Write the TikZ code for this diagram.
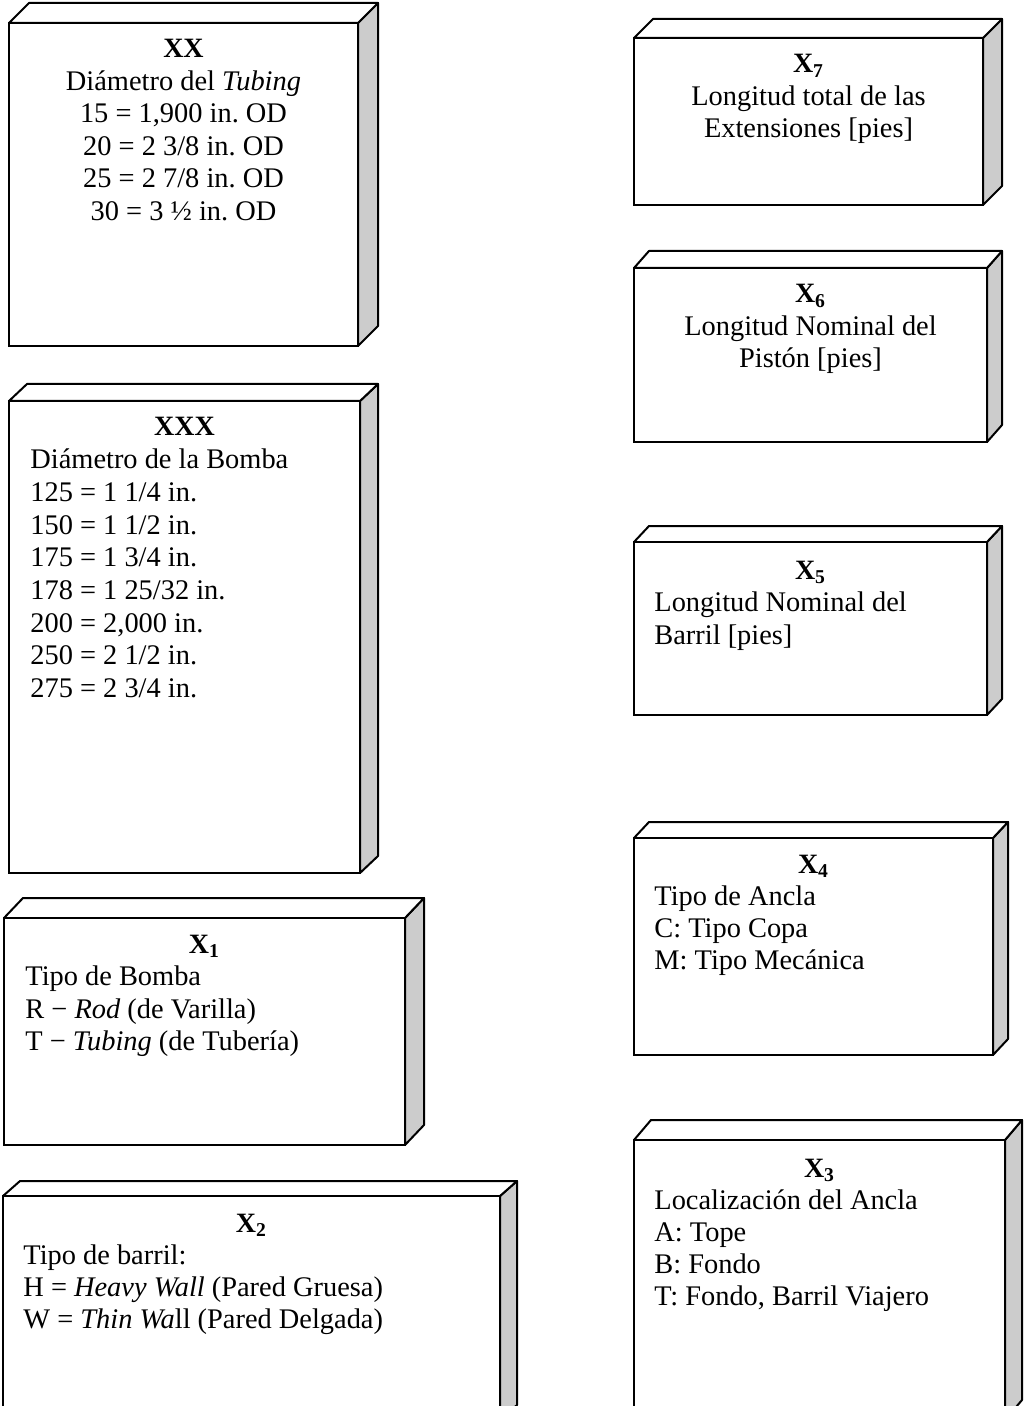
\documentclass[tikz,border=0pt]{standalone}
\usepackage{fontspec}
\setmainfont{Liberation Serif}
\frenchspacing
\tikzset{>=stealth}
\colorlet{background}{white}
\colorlet{penColor}{black}
\colorlet{sideColor}{black!20}
\tikzset{
  frente/.style={draw=penColor, line width=1pt, fill=background},
  tope/.style={draw=penColor, line width=1pt, fill=background, line join=round},
  lado/.style={draw=penColor, line width=1pt, fill=sideColor, line join=round},
  titulo/.style={anchor=base, inner sep=0pt, font=\fontsize{14}{16.25}\selectfont\bfseries},
  renglon/.style={anchor=base, inner sep=0pt, font=\fontsize{14.2}{16.25}\selectfont},
  renglonIzq/.style={renglon, anchor=base west}
}

\begin{document}
\begin{tikzpicture}[x=0.5pt,y=-0.5pt]
\clip (0,0) rectangle (1025,1406);
%% the nine boxes: name/left/top/right/bottom/depth x/depth y
\foreach \nom/\xa/\ya/\xb/\yb/\dx/\dy in {xx/9/23/358/346/20/20, xxx/9/401/360/873/18/17,
    xa/4/918/405/1145/19/20, xb/3/1196/500/1420/17/15,
    xg/634/38/983/205/19/19, xf/634/268/987/442/15/17, xe/634/542/987/715/15/16,
    xd/634/838/993/1055/15/16, xc/634/1140/1005/1420/17/20}{
  \draw[lado] (\xb,\ya) -- ++(\dx,-\dy) -- ++(0,\yb-\ya) -- (\xb,\yb) -- cycle;
  \draw[tope] (\xa,\ya) -- ++(\dx,-\dy) -- ++(\xb-\xa,0) -- (\xb,\ya) -- cycle;
  \draw[frente] (\xa,\ya) rectangle (\xb,\yb);
}

% left column
\node[titulo] (tXX) at (183.5,58) {XX};
\foreach \lin [count=\i] in {Diámetro del \textit{Tubing}, {15 = 1,900 in. OD},
    20 = 2 3/8 in. OD, 25 = 2 7/8 in. OD, 30 = 3 ½ in. OD}
  \node[renglon] (xx-\i) at (183.5,{58+32.5*\i}) {\lin};

\node[titulo] (tXXX) at (184.5,436) {XXX};
\foreach \lin [count=\i] in {Diámetro de la Bomba, 125 = 1 1/4 in., 150 = 1 1/2 in.,
    175 = 1 3/4 in., 178 = 1 25/32 in., {200 = 2,000 in.}, 250 = 2 1/2 in., 275 = 2 3/4 in.}
  \node[renglonIzq] (xxx-\i) at (30,{436+32.7*\i}) {\lin};

\node[titulo] (tX1) at (204.5,953) {X\textsubscript{1}};
\foreach \lin [count=\i] in {Tipo de Bomba, R − \textit{Rod} (de Varilla),
    T − \textit{Tubing} (de Tubería)}
  \node[renglonIzq] (xa-\i) at (25,{953+32.5*\i}) {\lin};

\node[titulo] (tX2) at (251.5,1232) {X\textsubscript{2}};
\foreach \lin [count=\i] in {Tipo de barril:, H = \textit{Heavy Wall} (Pared Gruesa),
    W = \textit{Thin Wa}ll (Pared Delgada)}
  \node[renglonIzq] (xb-\i) at (23,{1232+32*\i}) {\lin};

% right column
\node[titulo] (tX7) at (808.5,73) {X\textsubscript{7}};
\foreach \lin [count=\i] in {Longitud total de las, Extensiones [pies]}
  \node[renglon] (xg-\i) at (808.5,{73+32.5*\i}) {\lin};

\node[titulo] (tX6) at (810.5,303) {X\textsubscript{6}};
\foreach \lin [count=\i] in {Longitud Nominal del, Pistón [pies]}
  \node[renglon] (xf-\i) at (810.5,{303+32.5*\i}) {\lin};

\node[titulo] (tX5) at (810.5,579) {X\textsubscript{5}};
\foreach \lin [count=\i] in {Longitud Nominal del, Barril [pies]}
  \node[renglonIzq] (xe-\i) at (654,{579+32.5*\i}) {\lin};

\node[titulo] (tX4) at (813.5,873) {X\textsubscript{4}};
\foreach \lin [count=\i] in {Tipo de Ancla, C: Tipo Copa, M: Tipo Mecánica}
  \node[renglonIzq] (xd-\i) at (654,{873+32*\i}) {\lin};

\node[titulo] (tX3) at (819.5,1177) {X\textsubscript{3}};
\foreach \lin [count=\i] in {Localización del Ancla, A: Tope, B: Fondo,
    {T: Fondo, Barril Viajero}}
  \node[renglonIzq] (xc-\i) at (654,{1177+32.2*\i}) {\lin};
\end{tikzpicture}
\end{document}
